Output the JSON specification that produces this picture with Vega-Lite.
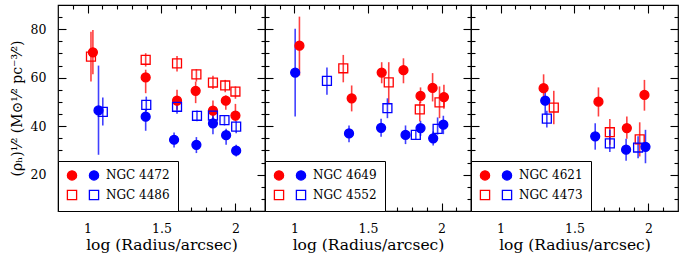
{
  "$schema": "https://vega.github.io/schema/vega-lite/v6.json",
  "padding": {"left": 9, "top": 3, "right": 0, "bottom": 0},
  "spacing": 0,
  "bounds": "flush",
  "config": {
    "font": "DejaVu Serif",
    "view": {"stroke": "#000", "strokeWidth": 1.2},
    "axis": {"domain": false, "grid": false, "tickColor": "#000", "tickWidth": 1.1, "labelColor": "#000", "titleColor": "#000", "labelFont": "DejaVu Serif", "titleFont": "DejaVu Serif", "labelFontSize": 12.5, "titleFontSize": 15.5, "titleFontWeight": "normal"},
    "legend": {"orient": "bottom-left", "offset": 0, "direction": "horizontal", "strokeColor": "#000", "fillColor": "#fff", "padding": 8, "columns": 2, "columnPadding": 2, "rowPadding": 4, "symbolSize": 85, "symbolStrokeWidth": 1.3, "labelFont": "DejaVu Serif", "labelFontSize": 12, "labelColor": "#000", "labelOffset": 6, "cornerRadius": 0}
  },
  "data": {"values": [
    {"panel": 1, "key": "NGC 4472 red", "pop": "red", "x": 1.036, "y": 70.5, "lo": 61.4, "hi": 79.7},
    {"panel": 1, "key": "NGC 4472 red", "pop": "red", "x": 1.393, "y": 60.1, "lo": 53.6, "hi": 63.3},
    {"panel": 1, "key": "NGC 4472 red", "pop": "red", "x": 1.605, "y": 50.5, "lo": 46.8, "hi": 55.0},
    {"panel": 1, "key": "NGC 4472 red", "pop": "red", "x": 1.731, "y": 54.6, "lo": 49.5, "hi": 58.4},
    {"panel": 1, "key": "NGC 4472 red", "pop": "red", "x": 1.848, "y": 46.4, "lo": 42.0, "hi": 50.6},
    {"panel": 1, "key": "NGC 4472 red", "pop": "red", "x": 1.935, "y": 50.5, "lo": 46.8, "hi": 52.7},
    {"panel": 1, "key": "NGC 4472 red", "pop": "red", "x": 2.0, "y": 44.4, "lo": 42.0, "hi": 49.2},
    {"panel": 1, "key": "NGC 4486 red", "pop": "red", "x": 1.023, "y": 68.7, "lo": 58.4, "hi": 79.0},
    {"panel": 1, "key": "NGC 4486 red", "pop": "red", "x": 1.393, "y": 67.4, "lo": 64.6, "hi": 70.1},
    {"panel": 1, "key": "NGC 4486 red", "pop": "red", "x": 1.605, "y": 65.9, "lo": 62.6, "hi": 69.0},
    {"panel": 1, "key": "NGC 4486 red", "pop": "red", "x": 1.736, "y": 61.4, "lo": 58.4, "hi": 63.5},
    {"panel": 1, "key": "NGC 4486 red", "pop": "red", "x": 1.848, "y": 58.0, "lo": 55.3, "hi": 60.8},
    {"panel": 1, "key": "NGC 4486 red", "pop": "red", "x": 1.931, "y": 56.8, "lo": 54.0, "hi": 59.1},
    {"panel": 1, "key": "NGC 4486 red", "pop": "red", "x": 2.0, "y": 54.3, "lo": 51.3, "hi": 56.4},
    {"panel": 1, "key": "NGC 4472 blue", "pop": "blue", "x": 1.074, "y": 46.5, "lo": 28.2, "hi": 65.0},
    {"panel": 1, "key": "NGC 4472 blue", "pop": "blue", "x": 1.393, "y": 43.9, "lo": 38.1, "hi": 46.8},
    {"panel": 1, "key": "NGC 4472 blue", "pop": "blue", "x": 1.585, "y": 34.4, "lo": 31.2, "hi": 37.4},
    {"panel": 1, "key": "NGC 4472 blue", "pop": "blue", "x": 1.736, "y": 32.3, "lo": 28.9, "hi": 35.5},
    {"panel": 1, "key": "NGC 4472 blue", "pop": "blue", "x": 1.848, "y": 41.2, "lo": 36.7, "hi": 43.6},
    {"panel": 1, "key": "NGC 4472 blue", "pop": "blue", "x": 1.937, "y": 36.3, "lo": 32.3, "hi": 38.9},
    {"panel": 1, "key": "NGC 4472 blue", "pop": "blue", "x": 2.005, "y": 29.9, "lo": 27.5, "hi": 32.3},
    {"panel": 1, "key": "NGC 4486 blue", "pop": "blue", "x": 1.103, "y": 45.9, "lo": 40.3, "hi": 51.8},
    {"panel": 1, "key": "NGC 4486 blue", "pop": "blue", "x": 1.397, "y": 48.8, "lo": 46.1, "hi": 52.2},
    {"panel": 1, "key": "NGC 4486 blue", "pop": "blue", "x": 1.605, "y": 48.0, "lo": 45.1, "hi": 50.2},
    {"panel": 1, "key": "NGC 4486 blue", "pop": "blue", "x": 1.74, "y": 44.3, "lo": 42.0, "hi": 46.5},
    {"panel": 1, "key": "NGC 4486 blue", "pop": "blue", "x": 1.848, "y": 44.4, "lo": 42.4, "hi": 46.4},
    {"panel": 1, "key": "NGC 4486 blue", "pop": "blue", "x": 1.926, "y": 42.5, "lo": 40.3, "hi": 44.4},
    {"panel": 1, "key": "NGC 4486 blue", "pop": "blue", "x": 2.005, "y": 39.8, "lo": 37.1, "hi": 42.0},
    {"panel": 2, "key": "NGC 4649 red", "pop": "red", "x": 1.034, "y": 73.2, "lo": 60.9, "hi": 85.2},
    {"panel": 2, "key": "NGC 4649 red", "pop": "red", "x": 1.389, "y": 51.5, "lo": 46.1, "hi": 56.8},
    {"panel": 2, "key": "NGC 4649 red", "pop": "red", "x": 1.593, "y": 62.1, "lo": 57.7, "hi": 66.4},
    {"panel": 2, "key": "NGC 4649 red", "pop": "red", "x": 1.741, "y": 63.1, "lo": 57.7, "hi": 68.0},
    {"panel": 2, "key": "NGC 4649 red", "pop": "red", "x": 1.857, "y": 52.5, "lo": 49.5, "hi": 56.0},
    {"panel": 2, "key": "NGC 4649 red", "pop": "red", "x": 1.939, "y": 55.8, "lo": 50.2, "hi": 61.9},
    {"panel": 2, "key": "NGC 4649 red", "pop": "red", "x": 2.016, "y": 52.0, "lo": 47.2, "hi": 57.1},
    {"panel": 2, "key": "NGC 4552 red", "pop": "red", "x": 1.332, "y": 63.9, "lo": 58.1, "hi": 69.4},
    {"panel": 2, "key": "NGC 4552 red", "pop": "red", "x": 1.641, "y": 58.1, "lo": 49.5, "hi": 66.4},
    {"panel": 2, "key": "NGC 4552 red", "pop": "red", "x": 1.852, "y": 46.9, "lo": 42.0, "hi": 50.2},
    {"panel": 2, "key": "NGC 4552 red", "pop": "red", "x": 1.986, "y": 49.8, "lo": 43.3, "hi": 56.4},
    {"panel": 2, "key": "NGC 4649 blue", "pop": "blue", "x": 1.005, "y": 62.1, "lo": 44.0, "hi": 80.2},
    {"panel": 2, "key": "NGC 4649 blue", "pop": "blue", "x": 1.371, "y": 37.0, "lo": 33.4, "hi": 40.3},
    {"panel": 2, "key": "NGC 4649 blue", "pop": "blue", "x": 1.589, "y": 39.3, "lo": 35.6, "hi": 43.1},
    {"panel": 2, "key": "NGC 4649 blue", "pop": "blue", "x": 1.755, "y": 36.4, "lo": 32.6, "hi": 40.3},
    {"panel": 2, "key": "NGC 4649 blue", "pop": "blue", "x": 1.857, "y": 39.2, "lo": 36.0, "hi": 42.2},
    {"panel": 2, "key": "NGC 4649 blue", "pop": "blue", "x": 1.943, "y": 35.0, "lo": 32.0, "hi": 37.8},
    {"panel": 2, "key": "NGC 4649 blue", "pop": "blue", "x": 2.012, "y": 40.6, "lo": 36.7, "hi": 44.3},
    {"panel": 2, "key": "NGC 4552 blue", "pop": "blue", "x": 1.221, "y": 58.7, "lo": 53.0, "hi": 64.2},
    {"panel": 2, "key": "NGC 4552 blue", "pop": "blue", "x": 1.632, "y": 47.4, "lo": 43.3, "hi": 51.5},
    {"panel": 2, "key": "NGC 4552 blue", "pop": "blue", "x": 1.825, "y": 36.4, "lo": 34.4, "hi": 38.5},
    {"panel": 2, "key": "NGC 4552 blue", "pop": "blue", "x": 1.973, "y": 38.9, "lo": 36.5, "hi": 43.6},
    {"panel": 3, "key": "NGC 4621 red", "pop": "red", "x": 1.291, "y": 55.7, "lo": 51.5, "hi": 61.4},
    {"panel": 3, "key": "NGC 4621 red", "pop": "red", "x": 1.662, "y": 50.1, "lo": 44.0, "hi": 56.0},
    {"panel": 3, "key": "NGC 4621 red", "pop": "red", "x": 1.854, "y": 39.2, "lo": 34.8, "hi": 44.0},
    {"panel": 3, "key": "NGC 4621 red", "pop": "red", "x": 1.973, "y": 52.9, "lo": 46.4, "hi": 59.1},
    {"panel": 3, "key": "NGC 4473 red", "pop": "red", "x": 1.36, "y": 47.7, "lo": 40.8, "hi": 54.6},
    {"panel": 3, "key": "NGC 4473 red", "pop": "red", "x": 1.739, "y": 37.5, "lo": 32.3, "hi": 43.0},
    {"panel": 3, "key": "NGC 4473 red", "pop": "red", "x": 1.941, "y": 34.6, "lo": 27.5, "hi": 41.6},
    {"panel": 3, "key": "NGC 4621 blue", "pop": "blue", "x": 1.302, "y": 50.5, "lo": 44.7, "hi": 57.3},
    {"panel": 3, "key": "NGC 4621 blue", "pop": "blue", "x": 1.64, "y": 35.8, "lo": 30.3, "hi": 41.2},
    {"panel": 3, "key": "NGC 4621 blue", "pop": "blue", "x": 1.849, "y": 30.3, "lo": 25.7, "hi": 34.8},
    {"panel": 3, "key": "NGC 4621 blue", "pop": "blue", "x": 1.98, "y": 31.5, "lo": 24.7, "hi": 38.5},
    {"panel": 3, "key": "NGC 4473 blue", "pop": "blue", "x": 1.313, "y": 43.1, "lo": 39.5, "hi": 46.4},
    {"panel": 3, "key": "NGC 4473 blue", "pop": "blue", "x": 1.739, "y": 32.9, "lo": 29.3, "hi": 38.5},
    {"panel": 3, "key": "NGC 4473 blue", "pop": "blue", "x": 1.93, "y": 31.2, "lo": 26.8, "hi": 35.8}
  ]},
  "resolve": {"scale": {"shape": "independent", "fill": "independent", "stroke": "independent", "x": "independent", "y": "independent"}, "legend": {"shape": "independent", "fill": "independent", "stroke": "independent"}},
  "hconcat": [
    {
      "width": 207, "height": 206,
      "transform": [{"filter": "datum.panel == 1"}],
      "resolve": {"axis": {"x": "independent", "y": "independent"}},
      "layer": [
        {
          "mark": {"type": "rule", "strokeWidth": 1.6, "opacity": 0.75},
          "encoding": {
            "x": {"field": "x", "type": "quantitative", "scale": {"domain": [0.8, 2.2], "nice": false, "zero": false}, "axis": {"orient": "bottom", "values": [0.9, 1.0, 1.1, 1.2, 1.3, 1.4, 1.5, 1.6, 1.7, 1.8, 1.9, 2.0, 2.1], "format": "~g", "labelExpr": "round(datum.value*10) % 5 == 0 ? datum.label : ''", "tickSize": {"condition": {"test": "round(datum.value*10) % 5 == 0", "value": -8}, "value": -4}, "labelPadding": 19, "title": "log (Radius/arcsec)", "titlePadding": 3}},
            "y": {"field": "lo", "type": "quantitative", "scale": {"domain": [5, 90], "nice": false, "zero": false}, "axis": {"orient": "left", "values": [10, 15, 20, 25, 30, 35, 40, 45, 50, 55, 60, 65, 70, 75, 80, 85], "labelExpr": "datum.value % 20 == 0 ? datum.label : ''", "tickSize": {"condition": {"test": "datum.value % 20 == 0", "value": -8}, "value": -4}, "labelPadding": 20, "title": "(ρₕ)¹⁄² (M⊙¹⁄² pc⁻³⁄²)", "titleFontSize": 14, "titlePadding": 6}},
            "y2": {"field": "hi"},
            "color": {"field": "pop", "type": "nominal", "scale": {"domain": ["red", "blue"], "range": ["#ff0000", "#0000ff"]}, "legend": null}
          }
        },
        {
          "mark": {"type": "point", "size": 80, "strokeWidth": 1.3, "opacity": 1},
          "encoding": {
            "x": {"field": "x", "type": "quantitative", "axis": {"orient": "top", "values": [0.9, 1.0, 1.1, 1.2, 1.3, 1.4, 1.5, 1.6, 1.7, 1.8, 1.9, 2.0, 2.1], "labels": false, "title": null, "tickSize": {"condition": {"test": "round(datum.value*10) % 5 == 0", "value": -8}, "value": -4}, "minExtent": 0, "maxExtent": 0}},
            "y": {"field": "y", "type": "quantitative", "axis": {"orient": "right", "values": [10, 15, 20, 25, 30, 35, 40, 45, 50, 55, 60, 65, 70, 75, 80, 85], "labels": false, "title": null, "tickSize": {"condition": {"test": "datum.value % 20 == 0", "value": -8}, "value": -4}, "minExtent": 0, "maxExtent": 0}},
            "shape": {"field": "key", "type": "nominal", "scale": {"domain": ["NGC 4472 red", "NGC 4472 blue", "NGC 4486 red", "NGC 4486 blue"], "range": ["circle", "circle", "square", "square"]}, "legend": {"title": null, "labelExpr": "indexof(datum.label, 'blue') >= 0 ? replace(datum.label, ' blue', '') : ''"}},
            "fill": {"field": "key", "type": "nominal", "scale": {"domain": ["NGC 4472 red", "NGC 4472 blue", "NGC 4486 red", "NGC 4486 blue"], "range": ["#ff0000", "#0000ff", "transparent", "transparent"]}, "legend": {"title": null, "labelExpr": "indexof(datum.label, 'blue') >= 0 ? replace(datum.label, ' blue', '') : ''"}},
            "stroke": {"field": "key", "type": "nominal", "scale": {"domain": ["NGC 4472 red", "NGC 4472 blue", "NGC 4486 red", "NGC 4486 blue"], "range": ["#ff0000", "#0000ff", "#ff0000", "#0000ff"]}, "legend": {"title": null, "labelExpr": "indexof(datum.label, 'blue') >= 0 ? replace(datum.label, ' blue', '') : ''"}}
          }
        }
      ]
    },
    {
      "width": 206, "height": 206,
      "transform": [{"filter": "datum.panel == 2"}],
      "resolve": {"axis": {"x": "independent", "y": "independent"}},
      "layer": [
        {
          "mark": {"type": "rule", "strokeWidth": 1.6, "opacity": 0.75},
          "encoding": {
            "x": {"field": "x", "type": "quantitative", "scale": {"domain": [0.8, 2.2], "nice": false, "zero": false}, "axis": {"orient": "bottom", "values": [0.9, 1.0, 1.1, 1.2, 1.3, 1.4, 1.5, 1.6, 1.7, 1.8, 1.9, 2.0, 2.1], "format": "~g", "labelExpr": "round(datum.value*10) % 5 == 0 ? datum.label : ''", "tickSize": {"condition": {"test": "round(datum.value*10) % 5 == 0", "value": -8}, "value": -4}, "labelPadding": 19, "title": "log (Radius/arcsec)", "titlePadding": 3}},
            "y": {"field": "lo", "type": "quantitative", "scale": {"domain": [5, 90], "nice": false, "zero": false}, "axis": {"orient": "left", "values": [10, 15, 20, 25, 30, 35, 40, 45, 50, 55, 60, 65, 70, 75, 80, 85], "labels": false, "title": null, "tickSize": {"condition": {"test": "datum.value % 20 == 0", "value": -8}, "value": -4}, "minExtent": 0, "maxExtent": 0}},
            "y2": {"field": "hi"},
            "color": {"field": "pop", "type": "nominal", "scale": {"domain": ["red", "blue"], "range": ["#ff0000", "#0000ff"]}, "legend": null}
          }
        },
        {
          "mark": {"type": "point", "size": 80, "strokeWidth": 1.3, "opacity": 1},
          "encoding": {
            "x": {"field": "x", "type": "quantitative", "axis": {"orient": "top", "values": [0.9, 1.0, 1.1, 1.2, 1.3, 1.4, 1.5, 1.6, 1.7, 1.8, 1.9, 2.0, 2.1], "labels": false, "title": null, "tickSize": {"condition": {"test": "round(datum.value*10) % 5 == 0", "value": -8}, "value": -4}, "minExtent": 0, "maxExtent": 0}},
            "y": {"field": "y", "type": "quantitative", "axis": {"orient": "right", "values": [10, 15, 20, 25, 30, 35, 40, 45, 50, 55, 60, 65, 70, 75, 80, 85], "labels": false, "title": null, "tickSize": {"condition": {"test": "datum.value % 20 == 0", "value": -8}, "value": -4}, "minExtent": 0, "maxExtent": 0}},
            "shape": {"field": "key", "type": "nominal", "scale": {"domain": ["NGC 4649 red", "NGC 4649 blue", "NGC 4552 red", "NGC 4552 blue"], "range": ["circle", "circle", "square", "square"]}, "legend": {"title": null, "labelExpr": "indexof(datum.label, 'blue') >= 0 ? replace(datum.label, ' blue', '') : ''"}},
            "fill": {"field": "key", "type": "nominal", "scale": {"domain": ["NGC 4649 red", "NGC 4649 blue", "NGC 4552 red", "NGC 4552 blue"], "range": ["#ff0000", "#0000ff", "transparent", "transparent"]}, "legend": {"title": null, "labelExpr": "indexof(datum.label, 'blue') >= 0 ? replace(datum.label, ' blue', '') : ''"}},
            "stroke": {"field": "key", "type": "nominal", "scale": {"domain": ["NGC 4649 red", "NGC 4649 blue", "NGC 4552 red", "NGC 4552 blue"], "range": ["#ff0000", "#0000ff", "#ff0000", "#0000ff"]}, "legend": {"title": null, "labelExpr": "indexof(datum.label, 'blue') >= 0 ? replace(datum.label, ' blue', '') : ''"}}
          }
        }
      ]
    },
    {
      "width": 207, "height": 206,
      "transform": [{"filter": "datum.panel == 3"}],
      "resolve": {"axis": {"x": "independent", "y": "independent"}},
      "layer": [
        {
          "mark": {"type": "rule", "strokeWidth": 1.6, "opacity": 0.75},
          "encoding": {
            "x": {"field": "x", "type": "quantitative", "scale": {"domain": [0.8, 2.2], "nice": false, "zero": false}, "axis": {"orient": "bottom", "values": [0.9, 1.0, 1.1, 1.2, 1.3, 1.4, 1.5, 1.6, 1.7, 1.8, 1.9, 2.0, 2.1], "format": "~g", "labelExpr": "round(datum.value*10) % 5 == 0 ? datum.label : ''", "tickSize": {"condition": {"test": "round(datum.value*10) % 5 == 0", "value": -8}, "value": -4}, "labelPadding": 19, "title": "log (Radius/arcsec)", "titlePadding": 3}},
            "y": {"field": "lo", "type": "quantitative", "scale": {"domain": [5, 90], "nice": false, "zero": false}, "axis": {"orient": "left", "values": [10, 15, 20, 25, 30, 35, 40, 45, 50, 55, 60, 65, 70, 75, 80, 85], "labels": false, "title": null, "tickSize": {"condition": {"test": "datum.value % 20 == 0", "value": -8}, "value": -4}, "minExtent": 0, "maxExtent": 0}},
            "y2": {"field": "hi"},
            "color": {"field": "pop", "type": "nominal", "scale": {"domain": ["red", "blue"], "range": ["#ff0000", "#0000ff"]}, "legend": null}
          }
        },
        {
          "mark": {"type": "point", "size": 80, "strokeWidth": 1.3, "opacity": 1},
          "encoding": {
            "x": {"field": "x", "type": "quantitative", "axis": {"orient": "top", "values": [0.9, 1.0, 1.1, 1.2, 1.3, 1.4, 1.5, 1.6, 1.7, 1.8, 1.9, 2.0, 2.1], "labels": false, "title": null, "tickSize": {"condition": {"test": "round(datum.value*10) % 5 == 0", "value": -8}, "value": -4}, "minExtent": 0, "maxExtent": 0}},
            "y": {"field": "y", "type": "quantitative", "axis": {"orient": "right", "values": [10, 15, 20, 25, 30, 35, 40, 45, 50, 55, 60, 65, 70, 75, 80, 85], "labels": false, "title": null, "tickSize": {"condition": {"test": "datum.value % 20 == 0", "value": -8}, "value": -4}, "minExtent": 0, "maxExtent": 0}},
            "shape": {"field": "key", "type": "nominal", "scale": {"domain": ["NGC 4621 red", "NGC 4621 blue", "NGC 4473 red", "NGC 4473 blue"], "range": ["circle", "circle", "square", "square"]}, "legend": {"title": null, "labelExpr": "indexof(datum.label, 'blue') >= 0 ? replace(datum.label, ' blue', '') : ''"}},
            "fill": {"field": "key", "type": "nominal", "scale": {"domain": ["NGC 4621 red", "NGC 4621 blue", "NGC 4473 red", "NGC 4473 blue"], "range": ["#ff0000", "#0000ff", "transparent", "transparent"]}, "legend": {"title": null, "labelExpr": "indexof(datum.label, 'blue') >= 0 ? replace(datum.label, ' blue', '') : ''"}},
            "stroke": {"field": "key", "type": "nominal", "scale": {"domain": ["NGC 4621 red", "NGC 4621 blue", "NGC 4473 red", "NGC 4473 blue"], "range": ["#ff0000", "#0000ff", "#ff0000", "#0000ff"]}, "legend": {"title": null, "labelExpr": "indexof(datum.label, 'blue') >= 0 ? replace(datum.label, ' blue', '') : ''"}}
          }
        }
      ]
    }
  ]
}
